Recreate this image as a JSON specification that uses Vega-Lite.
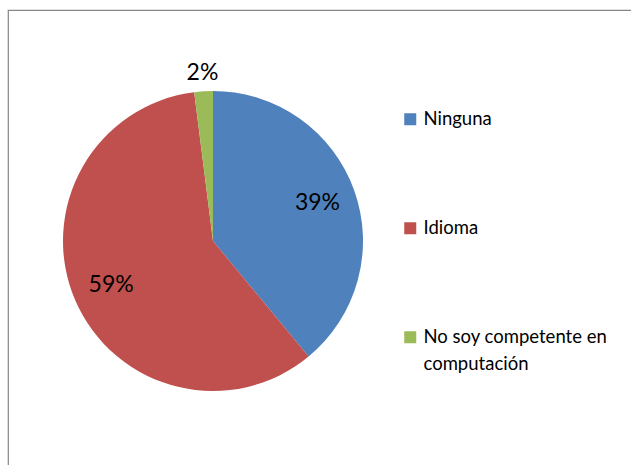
{
  "$schema": "https://vega.github.io/schema/vega-lite/v6.json",
  "width": 640,
  "height": 470,
  "autosize": {"type": "none"},
  "padding": {"left": 8, "top": 10, "right": 0, "bottom": 0},
  "background": "white",
  "config": {
    "view": {"stroke": "#868686", "strokeWidth": 1.2},
    "font": "Lato",
    "style": {"guide-label": {"lineHeight": 27}}
  },
  "data": {
    "values": [
      {"categoria": "Ninguna", "porcentaje": 0.39, "orden": 1},
      {"categoria": "Idioma", "porcentaje": 0.59, "orden": 2},
      {"categoria": "No soy competente en computación", "porcentaje": 0.02, "orden": 3}
    ]
  },
  "layer": [
    {
      "mark": {"type": "point", "opacity": 0},
      "encoding": {
        "x": {"datum": 0, "type": "quantitative", "axis": null},
        "y": {"datum": 0, "type": "quantitative", "axis": null}
      }
    },
    {
      "mark": {"type": "arc", "outerRadius": 150, "x": 205, "y": 231},
      "encoding": {
        "theta": {"field": "porcentaje", "type": "quantitative", "stack": true},
        "order": {"field": "orden", "type": "quantitative"},
        "color": {
          "field": "categoria",
          "type": "nominal",
          "scale": {
            "domain": ["Ninguna", "Idioma", "No soy competente en computación"],
            "range": ["#4F81BD", "#C0504D", "#9BBB59"]
          },
          "legend": {
            "title": null,
            "orient": "none",
            "legendX": 393,
            "legendY": 100,
            "padding": 0,
            "symbolType": "square",
            "symbolSize": 144,
            "symbolStrokeWidth": 0,
            "labelFont": "Lato",
            "labelFontSize": 18.5,
            "labelColor": "black",
            "labelOffset": 4,
            "labelLimit": 300,
            "rowPadding": 90,
            "labelExpr": "datum.label == 'No soy competente en computación' ? ['No soy competente en', 'computación'] : datum.label"
          }
        }
      }
    },
    {
      "mark": {
        "type": "text",
        "x": 205,
        "y": 231,
        "fontSize": 23,
        "font": "Lato",
        "color": "black",
        "radius": {"expr": "datum.porcentaje < 0.05 ? 168 : 111"}
      },
      "encoding": {
        "theta": {"field": "porcentaje", "type": "quantitative", "stack": true},
        "order": {"field": "orden", "type": "quantitative"},
        "detail": {"field": "categoria", "type": "nominal"},
        "text": {"field": "porcentaje", "type": "quantitative", "format": ".0%"}
      }
    }
  ]
}
